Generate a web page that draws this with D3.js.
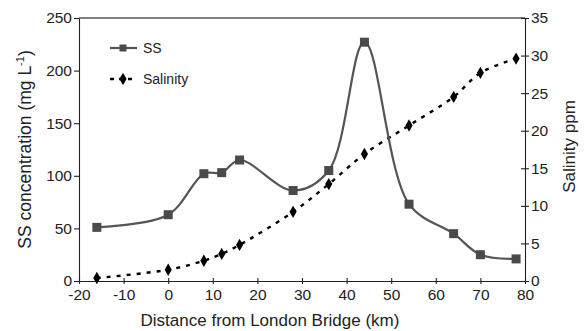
<!DOCTYPE html>
<html>
<head>
<meta charset="utf-8">
<script src="https://cdn.jsdelivr.net/npm/d3@7"></script>
<style>
  html, body { margin: 0; padding: 0; background: #fff; }
  svg { display: block; font-family: "Liberation Sans", Arial, sans-serif; }
</style>
</head>
<body>
<svg id="chart" width="586" height="331"></svg>
<script>
// Distance from London Bridge (km)
const distance = [-16, 0, 8, 12, 16, 28, 36, 44, 54, 64, 70, 78];
// Suspended solids concentration (mg/L)
const ssValues = [51, 63, 102, 103, 115, 86, 105, 227, 73, 45, 25, 21];
// Salinity (ppm)
const salinityValues = [0.4, 1.5, 2.7, 3.6, 4.8, 9.2, 12.9, 16.9, 20.7, 24.5, 27.7, 29.6];

const xTicks = [-20, -10, 0, 10, 20, 30, 40, 50, 60, 70, 80];
const ssTicks = [0, 50, 100, 150, 200, 250];
const salTicks = [0, 5, 10, 15, 20, 25, 30, 35];

const svg = d3.select("#chart");
const m = { left: 79, right: 525, top: 18, bottom: 281 };
const FONT = "Liberation Sans, Arial, sans-serif";

const x = d3.scaleLinear().domain([-20, 80]).range([m.left, m.right]);
const yL = d3.scaleLinear().domain([0, 250]).range([m.bottom, m.top]);
const yR = d3.scaleLinear().domain([0, 35]).range([m.bottom, m.top]);

const ss = distance.map((d, i) => ({ x: d, y: ssValues[i] }));
const sal = distance.map((d, i) => ({ x: d, y: salinityValues[i] }));

// top frame line
svg.append("line")
  .attr("x1", m.left).attr("x2", m.right)
  .attr("y1", m.top).attr("y2", m.top)
  .attr("stroke", "#000").attr("stroke-width", 1.2);

// plain hyphen for negative ticks
const fmt = d => String(d);

// x axis
const gx = svg.append("g").attr("transform", `translate(0,${m.bottom})`)
  .call(d3.axisBottom(x).tickValues(xTicks).tickSize(4).tickSizeOuter(0).tickFormat(fmt));
gx.selectAll(".tick line").attr("y1", -3).attr("y2", 3);
gx.selectAll("text").attr("dy", "0.95em").attr("y", 4);

// left axis
const gl = svg.append("g").attr("transform", `translate(${m.left},0)`)
  .call(d3.axisLeft(yL).tickValues(ssTicks).tickSize(5).tickSizeOuter(0).tickFormat(fmt));
gl.selectAll("text").attr("x", -7);

// right axis
const gr = svg.append("g").attr("transform", `translate(${m.right},0)`)
  .call(d3.axisRight(yR).tickValues(salTicks).tickSize(4).tickSizeOuter(0).tickFormat(fmt));
gr.selectAll(".tick line").attr("x1", -4).attr("x2", 4);
gr.selectAll("text").attr("x", 6);

[gx, gl, gr].forEach(g => {
  g.attr("font-size", null).attr("font-family", null);
  g.selectAll("text").attr("font-size", 15.5).attr("fill", "#222").attr("font-family", FONT);
  g.selectAll("path, line").attr("stroke", "#222").attr("stroke-width", 1.1);
});

// axis titles
svg.append("text")
  .attr("x", 270).attr("y", 326)
  .attr("text-anchor", "middle").attr("font-size", 17).attr("fill", "#222")
  .text("Distance from London Bridge (km)");

const lt = svg.append("text")
  .attr("transform", `translate(31,${(m.top + m.bottom) / 2}) rotate(-90)`)
  .attr("text-anchor", "middle").attr("font-size", 17.5).attr("fill", "#222");
lt.append("tspan").text("SS concentration (mg L");
lt.append("tspan").attr("dy", -7).attr("font-size", 11).text("-1");
lt.append("tspan").attr("dy", 7).text(")");

svg.append("text")
  .attr("transform", `translate(575,${(m.top + m.bottom) / 2 - 3}) rotate(-90)`)
  .attr("text-anchor", "middle").attr("font-size", 17).attr("fill", "#222")
  .text("Salinity ppm");

// salinity series (dashed, diamonds)
const salLine = d3.line().x(d => x(d.x)).y(d => yR(d.y)).curve(d3.curveCatmullRom.alpha(0.5));
svg.append("path").datum(sal)
  .attr("d", salLine).attr("fill", "none")
  .attr("stroke", "#000").attr("stroke-width", 2.4).attr("stroke-dasharray", "4,6");
const diamond = d3.symbol().type(d3.symbolDiamond).size(44);
svg.append("g").selectAll("path").data(sal).join("path")
  .attr("transform", d => `translate(${x(d.x)},${yR(d.y)})`)
  .attr("d", diamond).attr("fill", "#000");

// SS series (solid grey, squares)
const ssLine = d3.line().x(d => x(d.x)).y(d => yL(d.y)).curve(d3.curveCatmullRom.alpha(0.5));
svg.append("path").datum(ss)
  .attr("d", ssLine).attr("fill", "none")
  .attr("stroke", "#555").attr("stroke-width", 2.2);
svg.append("g").selectAll("rect").data(ss).join("rect")
  .attr("x", d => x(d.x) - 4.5).attr("y", d => yL(d.y) - 4.5)
  .attr("width", 9).attr("height", 9).attr("fill", "#4a4a4a");

// legend
const leg = svg.append("g");
leg.append("line").attr("x1", 110).attr("x2", 137).attr("y1", 48).attr("y2", 48)
  .attr("stroke", "#555").attr("stroke-width", 2.2);
leg.append("rect").attr("x", 119.5).attr("y", 44.5).attr("width", 7).attr("height", 7).attr("fill", "#4a4a4a");
leg.append("text").attr("x", 143).attr("y", 53).attr("font-size", 14).attr("fill", "#222").text("SS");

leg.append("line").attr("x1", 110).attr("x2", 136).attr("y1", 79).attr("y2", 79)
  .attr("stroke", "#000").attr("stroke-width", 2.4).attr("stroke-dasharray", "4,5");
leg.append("path").attr("transform", "translate(123,79)").attr("d", diamond).attr("fill", "#000");
leg.append("text").attr("x", 143).attr("y", 84).attr("font-size", 14).attr("fill", "#222").text("Salinity");
</script>
</body>
</html>
